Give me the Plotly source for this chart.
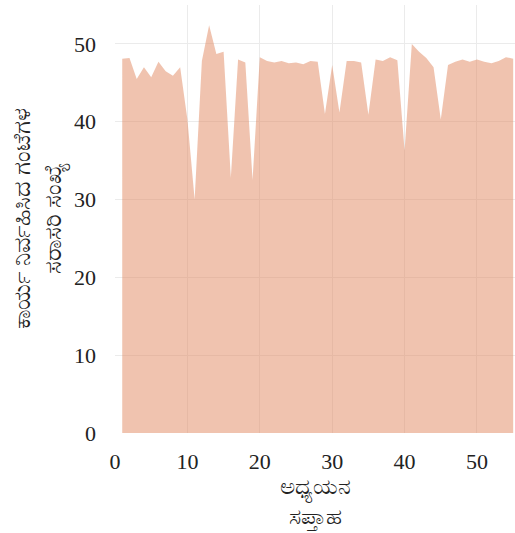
import plotly.graph_objects as go

weeks = list(range(1, 56))
hours = [48.1, 48.2, 45.5, 47.0, 45.7, 47.7, 46.5, 45.9, 47.0, 40.3,
         30.0, 47.8, 52.4, 48.7, 49.0, 32.8, 48.0, 47.6, 32.5, 48.3,
         47.8, 47.6, 47.8, 47.5, 47.6, 47.4, 47.8, 47.7, 41.0, 47.3,
         41.2, 47.8, 47.8, 47.6, 40.9, 48.0, 47.8, 48.3, 47.9, 36.3,
         50.0, 49.0, 48.2, 47.0, 40.3, 47.3, 47.7, 48.0, 47.7, 48.0,
         47.7, 47.5, 47.8, 48.3, 48.1]

x_title = "ಅಧ್ಯಯನ<br>ಸಪ್ತಾಹ"
y_title = "ಕಾರ್ಯ ನಿರ್ವಹಿಸಿದ ಗಂಟೆಗಳ<br>ಸರಾಸರಿ ಸಂಖ್ಯೆ"

fig = go.Figure()
fig.add_trace(go.Scatter(
    x=weeks, y=hours, mode="lines", fill="tozeroy",
    line=dict(width=0, color="rgba(225,135,95,0.5)"),
    fillcolor="rgba(225,135,95,0.5)",
))

font_serif = "Liberation Serif, Times New Roman, serif"
fig.update_layout(
    width=515, height=533,
    margin=dict(l=115, r=0, t=5, b=100),
    paper_bgcolor="white", plot_bgcolor="white",
    showlegend=False,
    font=dict(family=font_serif, size=22, color="#222"),
    xaxis=dict(range=[0, 55.25], dtick=10, showgrid=True, gridcolor="#ebebeb",
               zeroline=False, showline=False, ticklabelstandoff=13,
               automargin=False,
               tickfont=dict(size=22, family=font_serif),
               title=dict(text=x_title, font=dict(size=23), standoff=2)),
    yaxis=dict(range=[0, 55], dtick=10, showgrid=True, gridcolor="#ebebeb",
               zeroline=False, showline=False, ticklabelstandoff=18,
               automargin=False,
               tickfont=dict(size=22, family=font_serif),
               title=dict(text=y_title, font=dict(size=24), standoff=5)),
)

fig.write_html("out.html",
               config={"displayModeBar": False},
               post_script="document.body.style.margin='0';document.body.style.overflow='hidden';")
